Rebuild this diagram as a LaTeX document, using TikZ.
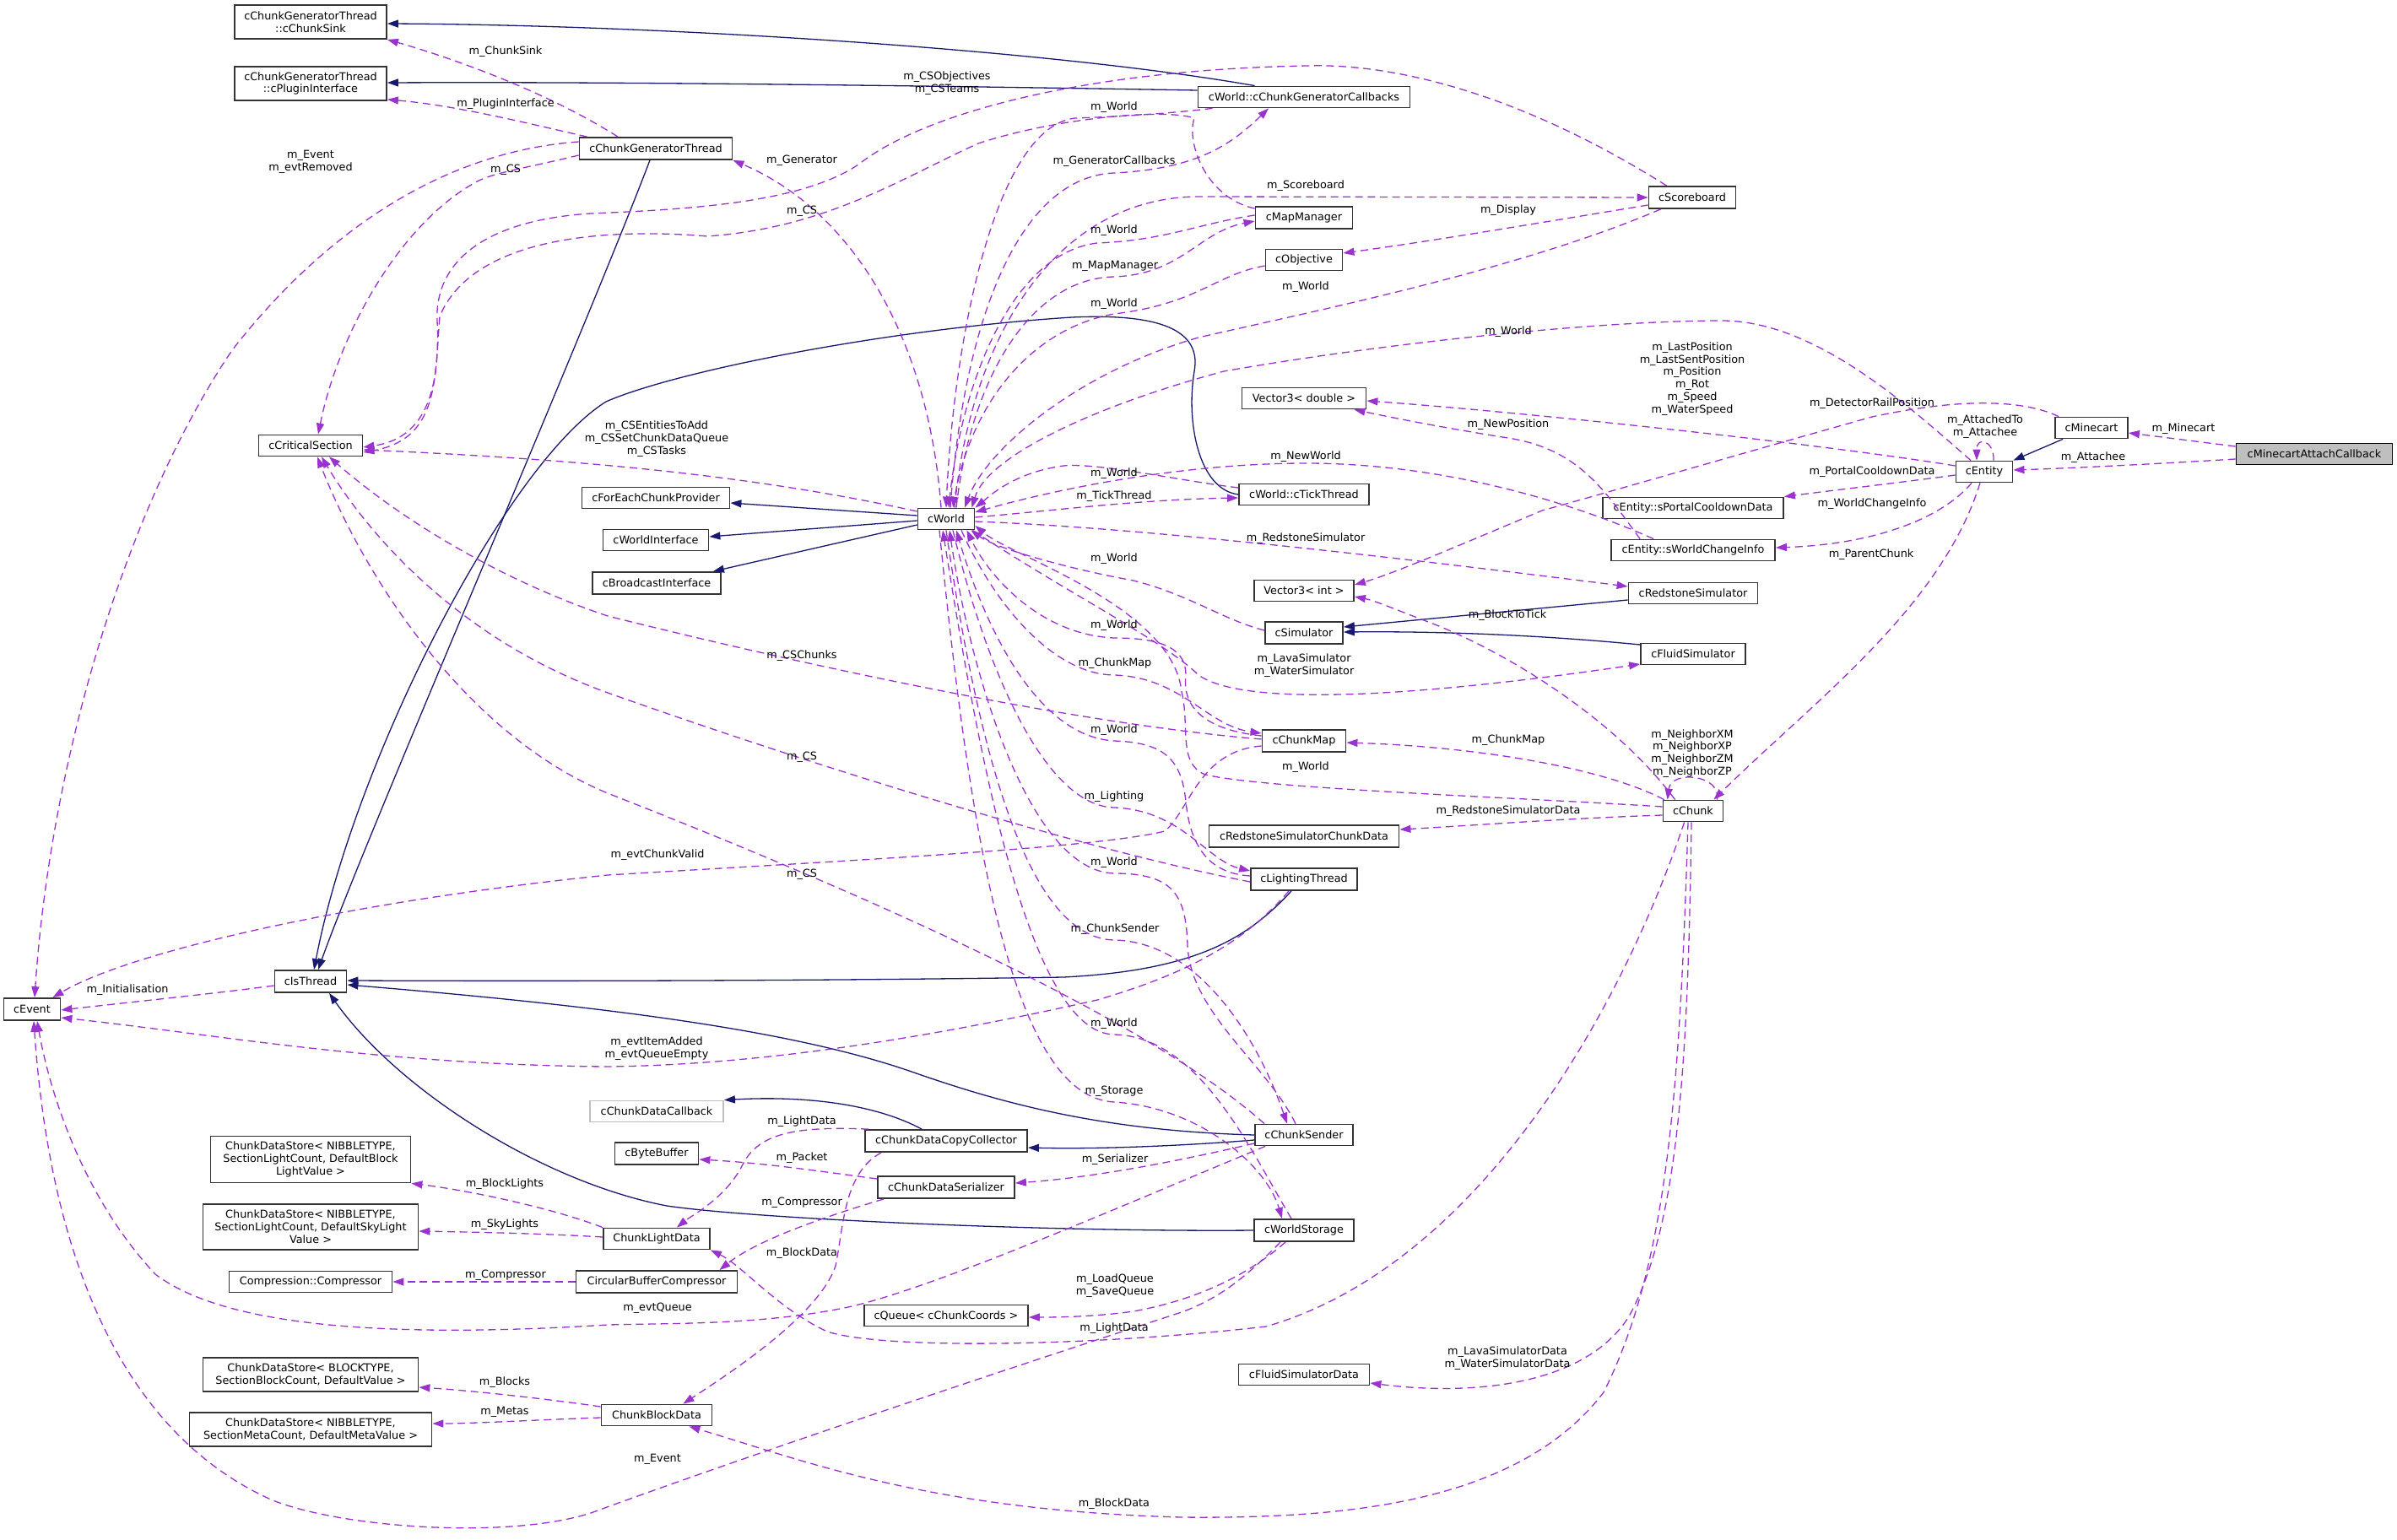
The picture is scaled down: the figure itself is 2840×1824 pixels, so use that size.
\documentclass[tikz,border=0pt]{standalone}
\usepackage{fontspec}
\setmainfont{DejaVu Sans}
\usetikzlibrary{arrows.meta,calc}
\definecolor{edgeblue}{HTML}{191970}
\definecolor{edgepurple}{HTML}{9A32CD}
\definecolor{boxborder}{HTML}{333333}
\definecolor{rootfill}{HTML}{BFBFBF}
\begin{document}
\begin{tikzpicture}[x=0.5pt,y=-0.5pt,
  every node/.style={font=\fontsize{6.4pt}{7.4pt}\selectfont},
  cls/.style={draw=boxborder,line width=0.9pt,fill=white,inner sep=0pt,align=center},
  inh/.style={draw=edgeblue,line width=0.65pt,-{Triangle[length=6.5pt,width=4.5pt]}},
  use/.style={draw=edgepurple,line width=0.65pt,dash pattern=on 4.5pt off 2.8pt,-{Triangle[length=6.5pt,width=4.5pt]}},
  lbl/.style={inner sep=0pt,align=center}]
\fill[white] (0,0) rectangle (2840,1824);
\useasboundingbox (0,0) rectangle (2840,1824);

% ---------- nodes ----------
\node[cls,minimum width=90pt,minimum height=20pt] (sink) at (368,26) {cChunkGeneratorThread\\::cChunkSink};
\node[cls,minimum width=90pt,minimum height=20pt] (plugin) at (368,99) {cChunkGeneratorThread\\::cPluginInterface};
\node[cls,minimum width=90.5pt,minimum height=13pt] (cgt) at (777,176) {cChunkGeneratorThread};
\node[cls,minimum width=61.5pt,minimum height=12.5pt] (crit) at (368,528) {cCriticalSection};
\node[cls,minimum width=87.5pt,minimum height=12.5pt] (fecp) at (777,590) {cForEachChunkProvider};
\node[cls,minimum width=62.5pt,minimum height=12.5pt] (wif) at (777,640) {cWorldInterface};
\node[cls,minimum width=76pt,minimum height=13pt] (bif) at (778,691) {cBroadcastInterface};
\node[cls,minimum width=33.5pt,minimum height=12.5pt] (world) at (1121,615) {cWorld};
\node[cls,minimum width=125.5pt,minimum height=12.5pt] (gcb) at (1545,115) {cWorld::cChunkGeneratorCallbacks};
\node[cls,minimum width=51.5pt,minimum height=13pt] (score) at (2005,234) {cScoreboard};
\node[cls,minimum width=57.5pt,minimum height=13pt] (mapm) at (1545,258) {cMapManager};
\node[cls,minimum width=45.5pt,minimum height=12.5pt] (obj) at (1545,308) {cObjective};
\node[cls,minimum width=73.5pt,minimum height=12.5pt] (v3d) at (1545,472) {Vector3< double >};
\node[cls,minimum width=77pt,minimum height=12.5pt] (tick) at (1545,586) {cWorld::cTickThread};
\node[cls,minimum width=107pt,minimum height=12.5pt] (portal) at (2006,602) {cEntity::sPortalCooldownData};
\node[cls,minimum width=43pt,minimum height=12.5pt] (minecart) at (2478,507) {cMinecart};
\node[cls,draw=black,fill=rootfill,minimum width=92.5pt,minimum height=12.5pt] (mac) at (2742,538) {cMinecartAttachCallback};
\node[cls,minimum width=33.5pt,minimum height=12.5pt] (entity) at (2351,559) {cEntity};
\node[cls,minimum width=33.5pt,minimum height=13pt] (event) at (38,1196) {cEvent};
\node[cls,minimum width=42.5pt,minimum height=13pt] (isthread) at (368,1163) {cIsThread};
\node[cls,minimum width=97pt,minimum height=12.5pt] (wci) at (2006,652) {cEntity::sWorldChangeInfo};
\node[cls,minimum width=59pt,minimum height=12.5pt] (v3i) at (1545,700) {Vector3< int >};
\node[cls,minimum width=76.5pt,minimum height=12.5pt] (redsim) at (2006,703) {cRedstoneSimulator};
\node[cls,minimum width=46pt,minimum height=13pt] (sim) at (1545,750) {cSimulator};
\node[cls,minimum width=62pt,minimum height=12.5pt] (fluidsim) at (2006,775) {cFluidSimulator};
\node[cls,minimum width=49.5pt,minimum height=13pt] (chunkmap) at (1545,878) {cChunkMap};
\node[cls,minimum width=35.5pt,minimum height=12.5pt] (chunk) at (2006,961) {cChunk};
\node[cls,minimum width=112.5pt,minimum height=13pt] (rscd) at (1545,991) {cRedstoneSimulatorChunkData};
\node[cls,minimum width=63pt,minimum height=13pt] (light) at (1545,1042) {cLightingThread};
\node[cls,minimum width=118.5pt,minimum height=27.5pt] (cdsBL) at (368,1374) {ChunkDataStore< NIBBLETYPE,\\ SectionLightCount, DefaultBlock\\LightValue >};
\node[cls,minimum width=127.5pt,minimum height=27pt] (cdsSL) at (368,1454) {ChunkDataStore< NIBBLETYPE,\\ SectionLightCount, DefaultSkyLight\\Value >};
\node[cls,minimum width=96.5pt,minimum height=12.5pt] (compr) at (368,1519) {Compression::Compressor};
\node[cls,minimum width=127.5pt,minimum height=20pt] (cdsB) at (368,1629) {ChunkDataStore< BLOCKTYPE,\\ SectionBlockCount, DefaultValue >};
\node[cls,minimum width=143.5pt,minimum height=20pt] (cdsM) at (368,1694) {ChunkDataStore< NIBBLETYPE,\\ SectionMetaCount, DefaultMetaValue >};
\node[cls,draw=rootfill,minimum width=79pt,minimum height=12.5pt] (cdcb) at (778,1317) {cChunkDataCallback};
\node[cls,minimum width=96pt,minimum height=13pt] (cdcc) at (1121,1352) {cChunkDataCopyCollector};
\node[cls,minimum width=49.5pt,minimum height=13pt] (bytebuf) at (778,1367) {cByteBuffer};
\node[cls,minimum width=81pt,minimum height=13pt] (cdser) at (1121,1407) {cChunkDataSerializer};
\node[cls,minimum width=63pt,minimum height=12.5pt] (cld) at (778,1468) {ChunkLightData};
\node[cls,minimum width=95.5pt,minimum height=13pt] (cbc) at (778,1519) {CircularBufferCompressor};
\node[cls,minimum width=97pt,minimum height=12.5pt] (queue) at (1121,1559) {cQueue< cChunkCoords >};
\node[cls,minimum width=65.5pt,minimum height=12.5pt] (cbd) at (778,1677) {ChunkBlockData};
\node[cls,minimum width=58pt,minimum height=12.5pt] (sender) at (1545,1345) {cChunkSender};
\node[cls,minimum width=59pt,minimum height=13pt] (storage) at (1545,1458) {cWorldStorage};
\node[cls,minimum width=77.5pt,minimum height=12.5pt] (fsd) at (1545,1629) {cFluidSimulatorData};

% ---------- inheritance ----------
\draw[inh] ($(gcb.north west)+(68,0)$) .. controls (1250,60) and (800,30) .. ($(sink.east)+(0,2)$);
\draw[inh] ($(gcb.west)+(0,-8)$) .. controls (1000,100) and (700,97) .. ($(plugin.east)+(0,-1)$);
\draw[inh] ($(cgt.south)+(-7,0)$) .. controls (690,400) and (430,1000) .. ($(isthread.north)+(9,0)$);
\draw[inh] (tick.west) .. controls (1420,580) and (1405,500) .. (1415,440) .. controls (1425,385) and (1360,372) .. (1270,376) .. controls (1050,390) and (800,440) .. (718,476) .. controls (600,550) and (420,900) .. ($(isthread.north)+(4,0)$);
\draw[inh] ($(light.south)+(-15,0)$) .. controls (1480,1110) and (1420,1150) .. (1260,1158) .. controls (1000,1162) and (700,1163) .. ($(isthread.east)+(0,-1)$);
\draw[inh] (sender.west) .. controls (1300,1340) and (1180,1305) .. (1080,1270) .. controls (950,1225) and (750,1195) .. ($(isthread.east)+(0,4)$);
\draw[inh] (storage.west) .. controls (1250,1460) and (900,1445) .. (790,1429) .. controls (640,1400) and (470,1290) .. ($(isthread.south)+(22,0)$);
\draw[inh] ($(world.west)+(0,-4)$) -- ($(fecp.east)+(0,6)$);
\draw[inh] ($(world.west)+(0,2)$) -- ($(wif.east)+(0,-4)$);
\draw[inh] ($(world.west)+(0,7)$) -- ($(bif.north east)+(-10,0)$);
\draw[inh] ($(redsim.west)+(0,8)$) -- ($(sim.east)+(0,-7)$);
\draw[inh] ($(fluidsim.west)+(0,-11)$) .. controls (1820,752) and (1700,748) .. ($(sim.east)+(0,-1)$);
\draw[inh] ($(minecart.south west)+(10,0)$) -- (entity.north east);
\draw[inh] ($(cdcc.north west)+(68,0)$) .. controls (1040,1310) and (960,1298) .. (cdcb.north east);
\draw[inh] ($(sender.west)+(0,6)$) .. controls (1400,1358) and (1300,1362) .. ($(cdcc.east)+(0,8)$);

% ---------- usage ----------
\draw[use] ($(mac.west)+(0,-9)$) -- ($(minecart.east)+(0,6)$);
\draw[use] ($(mac.west)+(0,6)$) .. controls (2550,550) and (2450,555) .. ($(entity.east)+(0,-2)$);
\draw[use] ($(entity.north)+(11,0)$) .. controls (2363,522) and (2342,516) .. ($(entity.north)+(-9,0)$);
\draw[use] ($(entity.west)+(0,-7)$) .. controls (2150,525) and (1800,488) .. ($(v3d.east)+(0,3)$);
\draw[use] ($(entity.north)+(-16,0)$) .. controls (2260,480) and (2150,380) .. (2040,380) .. controls (1900,380) and (1650,405) .. (1450,440) .. controls (1300,480) and (1170,540) .. ($(world.north east)+(-4,0)$);
\draw[use] ($(score.south west)+(15,0)$) .. controls (1800,320) and (1550,370) .. (1420,400) .. controls (1280,440) and (1170,530) .. ($(world.north)+(22,0)$);
\draw[use] ($(score.north west)+(22,0)$) .. controls (1800,110) and (1650,75) .. (1550,78) .. controls (1300,82) and (1100,130) .. (1017,195) .. controls (950,240) and (820,248) .. (700,253) .. controls (560,262) and (515,320) .. (518,380) .. controls (522,470) and (500,520) .. ($(crit.east)+(0,2)$);
\draw[use] ($(mapm.north west)+(0,3)$) .. controls (1430,235) and (1405,170) .. (1415,140) .. controls (1380,128) and (1250,140) .. (1159,170) .. controls (1070,210) and (980,270) .. (838,280) .. controls (720,270) and (560,280) .. (521,375) .. controls (515,450) and (520,520) .. ($(crit.east)+(0,8)$);
\draw[use] ($(world.west)+(0,-9)$) .. controls (900,565) and (700,545) .. ($(crit.east)+(0,5)$);
\draw[use] ($(world.north)+(-6,0)$) .. controls (1100,400) and (1010,250) .. (cgt.south east);
\draw[use] ($(cgt.north)+(-45,0)$) .. controls (650,110) and (540,70) .. (sink.south east);
\draw[use] ($(cgt.north west)+(10,0)$) .. controls (620,145) and (540,125) .. ($(plugin.south east)+(0,-2)$);
\draw[use] ($(cgt.west)+(0,-8)$) .. controls (520,180) and (380,280) .. (275,415) .. controls (150,600) and (60,900) .. ($(event.north)+(3,0)$);
\draw[use] ($(cgt.west)+(0,8)$) .. controls (620,200) and (580,205) .. (560,218) .. controls (470,270) and (400,400) .. ($(crit.north)+(9,0)$);
\draw[use] ($(chunkmap.west)+(0,-2)$) .. controls (1300,860) and (1000,800) .. (720,730) .. controls (600,690) and (480,620) .. ($(crit.south)+(22,0)$);
\draw[use] ($(light.west)+(0,3)$) .. controls (1300,1010) and (1000,920) .. (720,821) .. controls (550,760) and (440,640) .. ($(crit.south)+(13,0)$);
\draw[use] ($(sender.north west)+(12,0)$) .. controls (1350,1200) and (1000,1050) .. (720,940) .. controls (550,870) and (430,680) .. ($(crit.south)+(8,0)$);
\draw[use] ($(chunkmap.west)+(0,6)$) .. controls (1420,890) and (1410,960) .. (1380,985) .. controls (1300,1005) and (1000,1020) .. (720,1037) .. controls (400,1070) and (150,1130) .. ($(event.north east)+(-10,0)$);
\draw[use] ($(isthread.west)+(0,5)$) .. controls (250,1178) and (150,1188) .. ($(event.east)+(0,1)$);
\draw[use] ($(light.south)+(-18,0)$) .. controls (1480,1110) and (1420,1150) .. (1300,1185) .. controls (1100,1230) and (900,1262) .. (720,1264) .. controls (450,1262) and (250,1225) .. ($(event.east)+(0,10)$);
\draw[use] ($(sender.south west)+(13,0)$) .. controls (1350,1420) and (1100,1530) .. (1000,1550) .. controls (900,1570) and (800,1568) .. (720,1570) .. controls (400,1590) and (250,1560) .. (184,1510) .. controls (100,1420) and (60,1300) .. ($(event.south)+(6,0)$);
\draw[use] ($(storage.south west)+(32,0)$) .. controls (1470,1520) and (1440,1540) .. (1400,1555) .. controls (1200,1620) and (900,1720) .. (700,1793) .. controls (600,1825) and (400,1810) .. (321,1777) .. controls (150,1700) and (60,1500) .. ($(event.south)+(2,0)$);
\draw[use] ($(storage.south west)+(38,0)$) .. controls (1480,1510) and (1420,1540) .. (1343,1554) .. controls (1300,1560) and (1260,1561) .. ($(queue.east)+(0,2)$);
\draw[use] ($(sender.west)+(0,10)$) .. controls (1400,1375) and (1300,1395) .. ($(cdser.east)+(0,-5)$);
\draw[use] ($(gcb.south west)+(18,0)$) .. controls (1380,135) and (1330,138) .. (1274,140) .. controls (1180,150) and (1130,400) .. (world.north);
\draw[use] ($(world.north)+(5,0)$) .. controls (1140,400) and (1200,210) .. (1320,205) .. controls (1420,200) and (1460,170) .. ($(gcb.south)+(-42,0)$);
\draw[use] ($(world.north)+(10,0)$) .. controls (1150,400) and (1250,234) .. (1420,233) -- (score.west);
\draw[use] ($(mapm.west)+(0,-3)$) .. controls (1420,265) and (1380,285) .. (1300,288) .. controls (1200,300) and (1140,450) .. ($(world.north)+(3,0)$);
\draw[use] ($(world.north)+(12,0)$) .. controls (1150,450) and (1220,330) .. (1320,328) .. controls (1400,325) and (1420,275) .. ($(mapm.west)+(0,4)$);
\draw[use] ($(obj.west)+(0,7)$) .. controls (1440,325) and (1420,360) .. (1320,372) .. controls (1220,390) and (1150,480) .. ($(world.north)+(8,0)$);
\draw[use] ($(score.west)+(0,9)$) .. controls (1800,268) and (1700,285) .. ($(obj.east)+(0,-8)$);
\draw[use] ($(tick.west)+(0,-8)$) .. controls (1400,570) and (1300,548) .. (1260,552) .. controls (1200,560) and (1170,590) .. (world.north east);
\draw[use] ($(world.east)+(0,-2)$) .. controls (1250,605) and (1350,592) .. ($(tick.west)+(0,4)$);
\draw[use] ($(wci.north west)+(51,0)$) .. controls (1850,590) and (1700,549) .. (1547,549) .. controls (1400,549) and (1250,580) .. ($(world.east)+(0,-8)$);
\draw[use] ($(wci.north west)+(35,0)$) .. controls (1900,580) and (1870,530) .. (1780,518) .. controls (1700,505) and (1650,495) .. ($(v3d.south east)+(-15,0)$);
\draw[use] ($(minecart.north west)+(5,0)$) .. controls (2400,475) and (2330,470) .. (2218,494) .. controls (2100,527) and (1900,585) .. (1827,605) .. controls (1720,650) and (1650,680) .. ($(v3i.east)+(0,-7)$);
\draw[use] ($(entity.west)+(0,4)$) .. controls (2250,572) and (2180,580) .. (portal.north east);
\draw[use] ($(entity.south)+(-15,0)$) .. controls (2300,615) and (2220,645) .. ($(wci.east)+(0,-3)$);
\draw[use] ($(entity.south)+(-5,0)$) .. controls (2300,720) and (2150,830) .. ($(chunk.north east)+(-12,0)$);
\draw[use] ($(world.east)+(0,3)$) .. controls (1350,625) and (1650,660) .. ($(redsim.west)+(0,-8)$);
\draw[use] ($(sim.west)+(0,-3)$) .. controls (1450,735) and (1410,705) .. (1343,688) .. controls (1270,675) and (1180,650) .. ($(world.south east)+(-5,0)$);
\draw[use] ($(chunk.north west)+(15,0)$) .. controls (1920,860) and (1800,780) .. (1700,740) .. controls (1660,725) and (1630,712) .. ($(v3i.east)+(0,7)$);
\draw[use] ($(chunkmap.west)+(0,-6)$) .. controls (1430,865) and (1400,840) .. (1405,800) .. controls (1405,770) and (1380,756) .. (1320,756) .. controls (1230,752) and (1170,680) .. ($(world.south east)+(-10,0)$);
\draw[use] ($(world.south)+(18,0)$) .. controls (1180,720) and (1250,800) .. (1321,800) .. controls (1400,803) and (1430,860) .. ($(chunkmap.west)+(0,-9)$);
\draw[use] ($(world.south east)+(-3,0)$) .. controls (1260,700) and (1380,760) .. (1420,800) .. controls (1470,835) and (1650,830) .. ($(fluidsim.west)+(0,12)$);
\draw[use] ($(light.west)+(0,-4)$) .. controls (1430,1035) and (1410,1000) .. (1405,950) .. controls (1400,900) and (1380,880) .. (1320,878) .. controls (1220,872) and (1160,720) .. ($(world.south)+(12,0)$);
\draw[use] ($(world.south)+(8,0)$) .. controls (1170,800) and (1240,955) .. (1320,957) .. controls (1400,960) and (1430,1020) .. ($(light.west)+(0,-10)$);
\draw[use] ($(chunk.west)+(0,-5)$) .. controls (1800,945) and (1500,935) .. (1428,918) .. controls (1395,905) and (1410,860) .. (1400,820) .. controls (1390,720) and (1200,660) .. ($(world.east)+(0,8)$);
\draw[use] ($(chunk.north west)+(2,0)$) .. controls (1900,910) and (1750,885) .. ($(chunkmap.east)+(0,2)$);
\draw[use] ($(chunk.west)+(0,5)$) .. controls (1850,970) and (1750,978) .. ($(rscd.east)+(0,-8)$);
\draw[use] ($(chunk.north east)+(-8,0)$) .. controls (2040,918) and (1980,912) .. ($(chunk.north west)+(6,0)$);
\draw[use] ($(chunk.south)+(-2,0)$) .. controls (2000,1250) and (1990,1450) .. (1930,1560) .. controls (1880,1640) and (1750,1655) .. ($(fsd.east)+(0,10)$);
\draw[use] ($(chunk.south)+(-6,0)$) .. controls (1990,1300) and (1975,1500) .. (1900,1650) .. controls (1800,1780) and (1600,1800) .. (1400,1798) .. controls (1100,1790) and (950,1730) .. ($(cbd.south east)+(-28,0)$);
\draw[use] ($(chunk.south west)+(26,0)$) .. controls (1920,1200) and (1750,1500) .. (1500,1572) .. controls (1300,1595) and (1050,1600) .. (980,1578) .. controls (920,1550) and (880,1500) .. (cld.south east);
\draw[use] (cld.north west) .. controls (650,1430) and (550,1410) .. (cdsBL.south east);
\draw[use] ($(cld.west)+(0,-2)$) .. controls (650,1462) and (560,1460) .. ($(cdsSL.east)+(0,5)$);
\draw[use] (cbc.west) -- (compr.east);
\draw[use] ($(cbd.west)+(0,-10)$) .. controls (650,1658) and (560,1648) .. ($(cdsB.east)+(0,15)$);
\draw[use] ($(cbd.west)+(0,3)$) .. controls (650,1682) and (560,1687) .. ($(cdsM.east)+(0,-7)$);
\draw[use] ($(cdcc.north west)+(5,0)$) .. controls (950,1335) and (900,1340) .. (880,1380) .. controls (860,1420) and (820,1440) .. ($(cld.north east)+(-40,0)$);
\draw[use] ($(cdcc.south west)+(20,0)$) .. controls (1000,1390) and (1000,1450) .. (990,1500) .. controls (970,1560) and (860,1630) .. ($(cbd.north east)+(-35,0)$);
\draw[use] ($(cdser.west)+(0,-10)$) .. controls (950,1385) and (900,1378) .. ($(bytebuf.east)+(0,7)$);
\draw[use] ($(cdser.south west)+(8,0)$) .. controls (950,1450) and (890,1475) .. ($(cbc.north east)+(-22,0)$);
\draw[use] ($(sender.north)+(-10,0)$) .. controls (1500,1260) and (1410,1200) .. (1407,1120) .. controls (1405,1060) and (1390,1035) .. (1320,1035) .. controls (1220,1032) and (1150,800) .. ($(world.south)+(4,0)$);
\draw[use] (world.south) .. controls (1160,900) and (1220,1112) .. (1320,1114) .. controls (1420,1116) and (1490,1230) .. ($(sender.north)+(-20,0)$);
\draw[use] ($(storage.north)+(-15,0)$) .. controls (1480,1360) and (1420,1228) .. (1320,1226) .. controls (1220,1224) and (1160,900) .. ($(world.south)+(-4,0)$);
\draw[use] ($(world.south)+(-8,0)$) .. controls (1150,1000) and (1200,1300) .. (1320,1306) .. controls (1420,1312) and (1500,1380) .. ($(storage.north)+(-26,0)$);

% ---------- labels ----------
\node[lbl] (la1) at (599,61) {m\_ChunkSink};
\node[lbl] (la2) at (599,123) {m\_PluginInterface};
\node[lbl] (la3) at (368,192) {m\_Event\\m\_evtRemoved};
\node[lbl] (la4) at (599,201) {m\_CS};
\node[lbl] (la5) at (1122,99) {m\_CSObjectives\\m\_CSTeams};
\node[lbl] (la6) at (1320,127) {m\_World};
\node[lbl] (la7) at (950,190) {m\_Generator};
\node[lbl] (la8) at (1320,191) {m\_GeneratorCallbacks};
\node[lbl] (la9) at (950,250) {m\_CS};
\node[lbl] (la10) at (1320,273) {m\_World};
\node[lbl] (la11) at (1321,315) {m\_MapManager};
\node[lbl] (la12) at (1320,360) {m\_World};
\node[lbl] (la13) at (1547,220) {m\_Scoreboard};
\node[lbl] (la14) at (1787,249) {m\_Display};
\node[lbl] (la15) at (1547,340) {m\_World};
\node[lbl] (la16) at (1787,393) {m\_World};
\node[lbl] (la17) at (2005,449) {m\_LastPosition\\m\_LastSentPosition\\m\_Position\\m\_Rot\\m\_Speed\\m\_WaterSpeed};
\node[lbl] (la18) at (1787,503) {m\_NewPosition};
\node[lbl] (la19) at (1547,541) {m\_NewWorld};
\node[lbl] (la20) at (778,520) {m\_CSEntitiesToAdd\\m\_CSSetChunkDataQueue\\m\_CSTasks};
\node[lbl] (la21) at (1320,561) {m\_World};
\node[lbl] (la22) at (1320,588) {m\_TickThread};
\node[lbl] (la23) at (2218,478) {m\_DetectorRailPosition};
\node[lbl] (la24) at (2352,506) {m\_AttachedTo\\m\_Attachee};
\node[lbl] (la25) at (2587,508) {m\_Minecart};
\node[lbl] (la26) at (2480,542) {m\_Attachee};
\node[lbl] (la27) at (2218,559) {m\_PortalCooldownData};
\node[lbl] (la28) at (2218,597) {m\_WorldChangeInfo};
\node[lbl] (la29) at (2217,657) {m\_ParentChunk};
\node[lbl] (la30) at (1547,638) {m\_RedstoneSimulator};
\node[lbl] (la31) at (1320,662) {m\_World};
\node[lbl] (la32) at (1786,729) {m\_BlockToTick};
\node[lbl] (la33) at (1320,741) {m\_World};
\node[lbl] (la34) at (1321,786) {m\_ChunkMap};
\node[lbl] (la35) at (950,777) {m\_CSChunks};
\node[lbl] (la36) at (1545,789) {m\_LavaSimulator\\m\_WaterSimulator};
\node[lbl] (la37) at (1320,865) {m\_World};
\node[lbl] (la38) at (1787,877) {m\_ChunkMap};
\node[lbl] (la39) at (2005,893) {m\_NeighborXM\\m\_NeighborXP\\m\_NeighborZM\\m\_NeighborZP};
\node[lbl] (la40) at (1547,909) {m\_World};
\node[lbl] (la41) at (950,897) {m\_CS};
\node[lbl] (la42) at (1320,944) {m\_Lighting};
\node[lbl] (la43) at (1787,961) {m\_RedstoneSimulatorData};
\node[lbl] (la44) at (779,1013) {m\_evtChunkValid};
\node[lbl] (la45) at (1320,1022) {m\_World};
\node[lbl] (la46) at (950,1036) {m\_CS};
\node[lbl] (la47) at (1321,1101) {m\_ChunkSender};
\node[lbl] (la48) at (1320,1213) {m\_World};
\node[lbl] (la49) at (778,1243) {m\_evtItemAdded\\m\_evtQueueEmpty};
\node[lbl] (la50) at (151,1173) {m\_Initialisation};
\node[lbl] (la51) at (1320,1293) {m\_Storage};
\node[lbl] (la52) at (950,1329) {m\_LightData};
\node[lbl] (la53) at (950,1372) {m\_Packet};
\node[lbl] (la54) at (1321,1374) {m\_Serializer};
\node[lbl] (la55) at (598,1403) {m\_BlockLights};
\node[lbl] (la56) at (598,1451) {m\_SkyLights};
\node[lbl] (la57) at (950,1425) {m\_Compressor};
\node[lbl] (la58) at (599,1511) {m\_Compressor};
\node[lbl] (la59) at (950,1485) {m\_BlockData};
\node[lbl] (la60) at (1321,1524) {m\_LoadQueue\\m\_SaveQueue};
\node[lbl] (la61) at (779,1550) {m\_evtQueue};
\node[lbl] (la62) at (1320,1574) {m\_LightData};
\node[lbl] (la63) at (1786,1610) {m\_LavaSimulatorData\\m\_WaterSimulatorData};
\node[lbl] (la64) at (598,1638) {m\_Blocks};
\node[lbl] (la65) at (598,1673) {m\_Metas};
\node[lbl] (la66) at (779,1729) {m\_Event};
\node[lbl] (la67) at (1320,1782) {m\_BlockData};
\end{tikzpicture}
\end{document}
